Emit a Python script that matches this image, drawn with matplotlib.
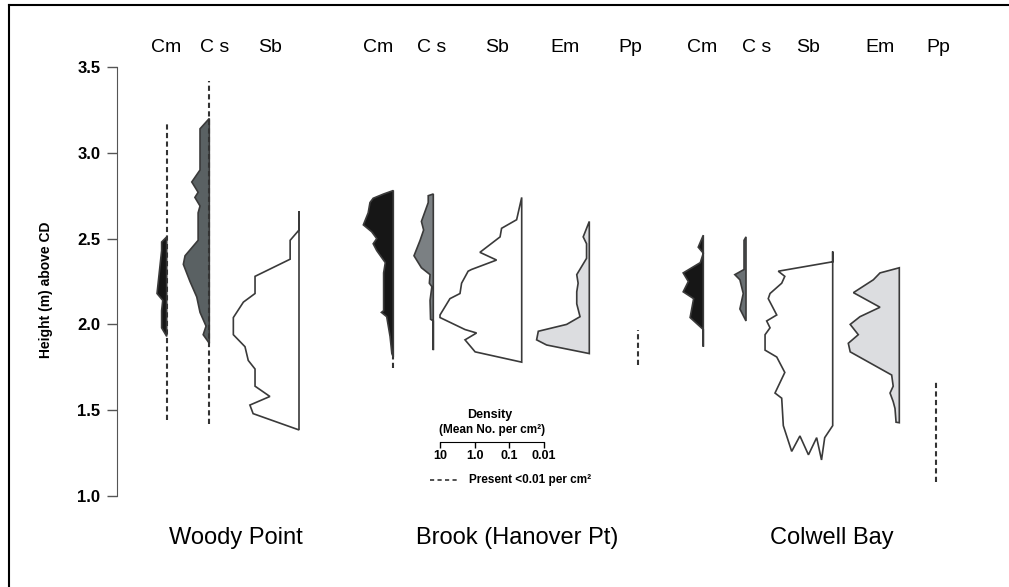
import numpy as np
import matplotlib.pyplot as plt
from matplotlib.lines import Line2D
from matplotlib.ticker import NullLocator

plt.rcParams['font.family'] = ['Liberation Sans', 'DejaVu Sans']

# ---- data: outline of each kite, height (m above CD) vs density (mean no. per cm2)
# Woody Point
wp_cm_h = [2.51, 2.48, 2.43, 2.18, 2.14, 2.08, 1.98, 1.93]
wp_cm_d = [0.01, 0.014, 0.014, 0.019, 0.013, 0.014, 0.014, 0.01]
wp_cs_h = [3.20, 3.14, 3.02, 2.90, 2.83, 2.77, 2.74, 2.69, 2.65, 2.49, 2.40, 2.35,
           2.29, 2.25, 2.16, 2.07, 1.99, 1.94, 1.89]
wp_cs_d = [0.01, 0.0185, 0.0185, 0.0185, 0.032, 0.021, 0.026, 0.0185, 0.021, 0.021,
           0.050, 0.056, 0.043, 0.036, 0.023, 0.0185, 0.0124, 0.015, 0.01]
wp_sb_h = [2.66, 2.55, 2.49, 2.38, 2.28, 2.18, 2.13, 2.04, 1.94, 1.87, 1.79, 1.74,
           1.64, 1.58, 1.53, 1.48, 1.385]
wp_sb_d = [0.01, 0.01, 0.018, 0.018, 0.185, 0.185, 0.40, 0.78, 0.78, 0.36, 0.29, 0.185,
           0.185, 0.069, 0.26, 0.21, 0.01]

# Brook (Hanover Pt)
bk_cm_h = [2.78, 2.76, 2.735, 2.71, 2.65, 2.58, 2.54, 2.50, 2.47, 2.43, 2.36, 2.30,
           2.08, 2.07, 2.045, 1.93, 1.83, 1.81]
bk_cm_d = [0.01, 0.019, 0.038, 0.047, 0.053, 0.073, 0.042, 0.030, 0.038, 0.030, 0.017,
           0.019, 0.019, 0.022, 0.0155, 0.0124, 0.011, 0.01]
bk_cs_h = [2.76, 2.75, 2.71, 2.60, 2.55, 2.49, 2.40, 2.33, 2.29, 2.24, 2.22, 2.14,
           2.03, 2.02, 1.85]
bk_cs_d = [0.01, 0.014, 0.014, 0.022, 0.019, 0.024, 0.036, 0.022, 0.0124, 0.013, 0.011,
           0.0124, 0.012, 0.01, 0.01]
bk_sb_h = [2.74, 2.61, 2.56, 2.51, 2.42, 2.375, 2.32, 2.31, 2.24, 2.18, 2.15, 2.055,
           2.04, 1.97, 1.95, 1.91, 1.84, 1.78]
bk_sb_d = [0.01, 0.014, 0.038, 0.042, 0.16, 0.053, 0.28, 0.35, 0.54, 0.60, 1.17, 2.26,
           2.26, 0.43, 0.20, 0.43, 0.22, 0.01]
bk_em_h = [2.60, 2.51, 2.47, 2.41, 2.385, 2.29, 2.24, 2.19, 2.12, 2.045, 2.00, 1.96,
           1.91, 1.88, 1.83]
bk_em_d = [0.01, 0.015, 0.012, 0.012, 0.012, 0.023, 0.021, 0.023, 0.023, 0.0185, 0.045,
           0.295, 0.33, 0.17, 0.01]

# Colwell Bay
cb_cm_h = [2.52, 2.45, 2.415, 2.36, 2.30, 2.25, 2.19, 2.15, 2.04, 1.97, 1.87]
cb_cm_d = [0.01, 0.014, 0.01, 0.0122, 0.038, 0.027, 0.038, 0.019, 0.024, 0.01, 0.01]
cb_cs_h = [2.51, 2.49, 2.32, 2.29, 2.26, 2.18, 2.09, 2.02]
cb_cs_d = [0.01, 0.0114, 0.0114, 0.021, 0.015, 0.012, 0.015, 0.01]
cb_sb_h = [2.425, 2.365, 2.31, 2.28, 2.24, 2.18, 2.15, 2.055, 2.02, 1.98, 1.94, 1.85,
           1.81, 1.72, 1.60, 1.57, 1.41, 1.26, 1.35, 1.24, 1.34, 1.21, 1.34, 1.41]
cb_sb_d = [0.01, 0.01, 0.37, 0.24, 0.295, 0.64, 0.72, 0.41, 0.80, 0.64, 0.89, 0.89,
           0.41, 0.24, 0.46, 0.295, 0.265, 0.152, 0.088, 0.050, 0.029, 0.021, 0.017, 0.01]
cb_em_h = [2.33, 2.30, 2.26, 2.185, 2.10, 2.045, 2.00, 1.94, 1.89, 1.84, 1.705, 1.64,
           1.60, 1.55, 1.51, 1.43, 1.427]
cb_em_d = [0.01, 0.036, 0.056, 0.21, 0.036, 0.136, 0.26, 0.152, 0.295, 0.26, 0.0166,
           0.015, 0.0185, 0.015, 0.0133, 0.0124, 0.01]

# height ranges where a species is present at < 0.01 per cm2 (dashed)
wp_cm_low = (1.44, 3.18)
wp_cs_low = (1.42, 3.42)
bk_cm_low = (1.745, 1.81)
bk_pp_low = (1.763, 1.967)
cb_pp_low = (1.083, 1.667)

height_ticks = [1.0, 1.5, 2.0, 2.5, 3.0, 3.5]
scale_ticks = [10, 1, 0.1, 0.01]
scale_labels = ['10', '1.0', '0.1', '0.01']

# ---- layout (pixels of the 1009x587 canvas)
W, H = 1009, 587
DEC = 34.7            # pixels per decade of density
Y_LO, Y_HI = 496, 67  # rows of 1.0 m and 3.5 m

def fx(x):
    return x / W

def fy(y):
    return 1 - y / H

CM = '#161616'
EDGE = '#3a3a3a'

profiles = [
    # baseline x, heights, densities, fill colour, low-density range
    (166.7, wp_cm_h, wp_cm_d, CM, wp_cm_low),
    (209.3, wp_cs_h, wp_cs_d, '#5a6163', wp_cs_low),
    (299.0, wp_sb_h, wp_sb_d, 'white', None),
    (393.3, bk_cm_h, bk_cm_d, CM, bk_cm_low),
    (433.3, bk_cs_h, bk_cs_d, '#7b8083', None),
    (521.7, bk_sb_h, bk_sb_d, 'white', None),
    (589.3, bk_em_h, bk_em_d, '#dcdde0', None),
    (637.7, None, None, None, bk_pp_low),
    (703.3, cb_cm_h, cb_cm_d, CM, None),
    (746.0, cb_cs_h, cb_cs_d, '#6a7073', None),
    (832.7, cb_sb_h, cb_sb_d, 'white', None),
    (899.3, cb_em_h, cb_em_d, '#dcdde0', None),
    (936.0, None, None, None, cb_pp_low),
]

headers = [(166, 'Cm'), (215, 'C s'), (270, 'Sb'),
           (378, 'Cm'), (432, 'C s'), (497, 'Sb'), (565, 'Em'), (630, 'Pp'),
           (702, 'Cm'), (757, 'C s'), (808, 'Sb'), (880, 'Em'), (938, 'Pp')]
sites = [(236, 'Woody Point'), (517, 'Brook (Hanover Pt)'), (832, 'Colwell Bay')]

fig = plt.figure(figsize=(W / 100, H / 100), dpi=100)

# height axis
ax = fig.add_axes([fx(117), fy(Y_LO), 0.01, fy(Y_HI) - fy(Y_LO)])
ax.set_ylim(1.0, 3.5)
ax.patch.set_alpha(0)
for s in ['top', 'right', 'bottom']:
    ax.spines[s].set_visible(False)
ax.spines['left'].set_color('#555555')
ax.set_xticks([])
ax.set_yticks(height_ticks)
ax.set_yticklabels(['%.1f' % t for t in height_ticks])
ax.tick_params(axis='y', length=7, width=1, color='#555555', pad=5, labelsize=12)
for lbl in ax.get_yticklabels():
    lbl.set_fontweight('bold')
fig.text(fx(46), fy(290), 'Height (m) above CD', rotation=90, ha='center', va='center',
         fontsize=10, fontweight='bold')

# one log-density axes per kite, baseline (0.01) on its right edge
for base, hs, ds, col, low in profiles:
    a = fig.add_axes([fx(base - 4 * DEC), fy(Y_LO), 4 * DEC / W, fy(Y_HI) - fy(Y_LO)])
    a.set_xscale('log')
    a.set_xlim(100, 0.01)
    a.set_ylim(1.0, 3.5)
    a.axis('off')
    if low is not None:
        a.plot([0.01, 0.01], low, color='#333333', lw=1.5, ls=(0, (2.5, 1.6)),
               clip_on=False)
    if hs is not None:
        a.fill(ds, hs, facecolor=col, edgecolor=EDGE, lw=1.2, clip_on=False)

for x, t in headers:
    fig.text(fx(x), fy(48), t, ha='center', va='center', fontsize=14)
for x, t in sites:
    fig.text(fx(x), fy(538), t, ha='center', va='center', fontsize=17)

# density scale bar
sa = fig.add_axes([fx(440), fy(441.7), 104 / W, 0.001])
sa.set_xscale('log')
sa.set_xlim(10, 0.01)
sa.patch.set_alpha(0)
for s in ['top', 'right', 'left']:
    sa.spines[s].set_visible(False)
sa.set_yticks([])
sa.set_xticks(scale_ticks)
sa.set_xticklabels(scale_labels)
sa.xaxis.set_minor_locator(NullLocator())
sa.tick_params(axis='x', length=4, width=1, pad=2, labelsize=9)
for lbl in sa.get_xticklabels():
    lbl.set_fontweight('bold')
fig.text(fx(490), fy(415), 'Density', ha='center', va='center', fontsize=9,
         fontweight='bold')
fig.text(fx(492), fy(430), '(Mean No. per cm\u00b2)', ha='center', va='center',
         fontsize=8.5, fontweight='bold')
fig.add_artist(Line2D([fx(430), fx(458)], [fy(480), fy(480)], color='#333333', lw=1.2,
                      ls=(0, (2.5, 2)), transform=fig.transFigure))
fig.text(fx(469), fy(480), 'Present <0.01 per cm\u00b2', ha='left', va='center',
         fontsize=8.5, fontweight='bold')

# page frame
fig.add_artist(Line2D([fx(9), fx(9)], [fy(5), 0], color='black', lw=1.5,
                      transform=fig.transFigure))
fig.add_artist(Line2D([fx(9), 1], [fy(5), fy(5)], color='black', lw=1.5,
                      transform=fig.transFigure))

fig.savefig('out.png', dpi=100)
